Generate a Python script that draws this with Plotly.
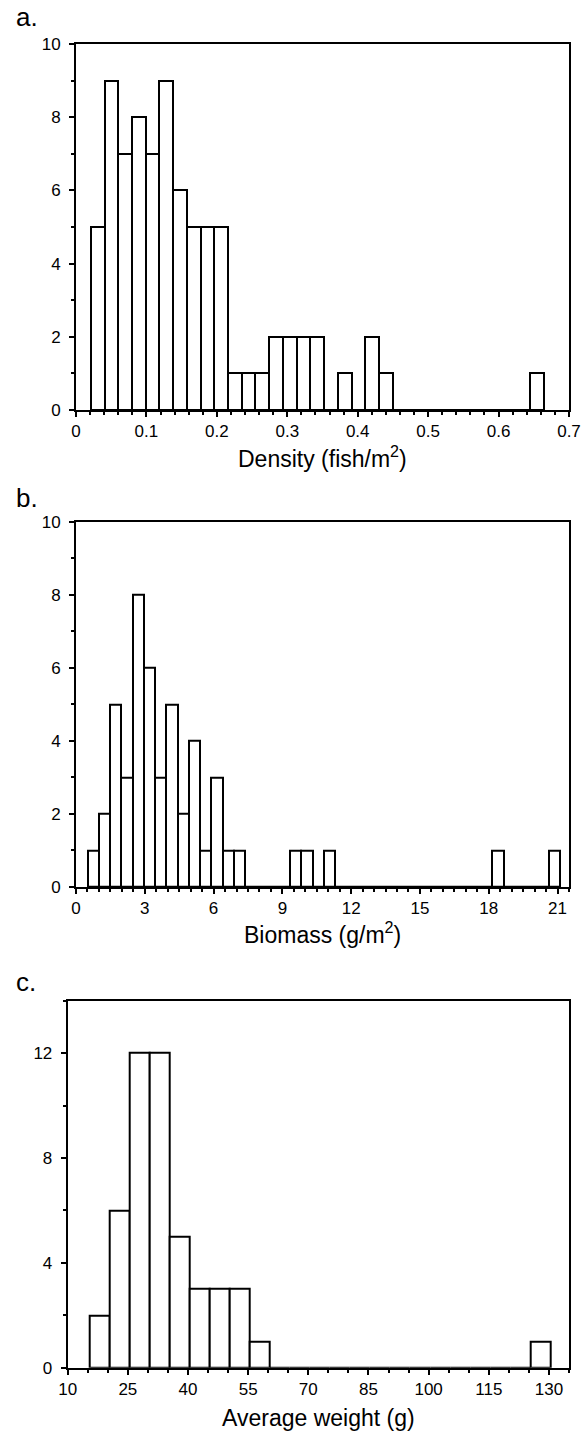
import plotly.graph_objects as go

# ---------------- data ----------------
# a. Density (fish/m2): histogram counts, equal-width bins from min to max
density_counts = [5, 9, 7, 8, 7, 9, 6, 5, 5, 5, 1, 1, 1, 2, 2, 2, 2, 0, 1, 0, 2, 1,
                  0, 0, 0, 0, 0, 0, 0, 0, 0, 0, 1]
density_min, density_max = 0.021, 0.664

# b. Biomass (g/m2)
biomass_counts = [1, 2, 5, 3, 8, 6, 3, 5, 2, 4, 1, 3, 1, 1, 0, 0, 0, 0, 1, 1, 0, 1,
                  0, 0, 0, 0, 0, 0, 0, 0, 0, 0, 0, 0, 0, 0, 1, 0, 0, 0, 0, 1]
biomass_min, biomass_max = 0.51, 21.1

# c. Average weight (g)
weight_counts = [2, 6, 12, 12, 5, 3, 3, 3, 1, 0, 0, 0, 0, 0, 0, 0, 0, 0, 0, 0, 0, 0, 1]
weight_min, weight_max = 15.4, 130.4

panel_labels = ["a.", "b.", "c."]
x_titles = ["Density (fish/m<sup>2</sup>)", "Biomass (g/m<sup>2</sup>)", "Average weight (g)"]

# ---------------- figure ----------------
W, H = 583, 1431
FONT = "Liberation Sans, Arial, Helvetica, sans-serif"

def centers(vmin, vmax, n):
    w = (vmax - vmin) / n
    return [vmin + w * (i + 0.5) for i in range(n)], w

fig = go.Figure()

panels = [
    dict(counts=density_counts, vmin=density_min, vmax=density_max,
         xdom=[76 / W, 569 / W], ytop=44, ybot=410,
         xrange=[0, 0.7], tick0=0, dtick=0.1, mdtick=0.02,
         yrange=[0, 10], ydtick=2, ymdtick=1, label_y=17, title_y=457),
    dict(counts=biomass_counts, vmin=biomass_min, vmax=biomass_max,
         xdom=[76 / W, 569 / W], ytop=521.7, ybot=887,
         xrange=[0, 21.5], tick0=0, dtick=3, mdtick=0.5,
         yrange=[0, 10], ydtick=2, ymdtick=1, label_y=498, title_y=933),
    dict(counts=weight_counts, vmin=weight_min, vmax=weight_max,
         xdom=[67.7 / W, 569 / W], ytop=1000.7, ybot=1367.7,
         xrange=[10, 135], tick0=10, dtick=15, mdtick=5,
         yrange=[0, 14], ydtick=4, ymdtick=2, label_y=982, title_y=1418),
]

for i, p in enumerate(panels):
    sfx = "" if i == 0 else str(i + 1)
    xs, w = centers(p["vmin"], p["vmax"], len(p["counts"]))
    fig.add_trace(go.Bar(
        x=xs, y=p["counts"], width=w,
        marker=dict(color="white", line=dict(color="black", width=2)),
        xaxis=f"x{sfx}", yaxis=f"y{sfx}", showlegend=False, hoverinfo="x+y",
    ))
    ax_common = dict(
        showline=True, linecolor="black", linewidth=2, mirror=True,
        showgrid=False, zeroline=False, ticks="outside", tickcolor="black",
        tickwidth=1.5, ticklen=5, automargin=False,
        tickfont=dict(family=FONT, size=17, color="black"),
    )
    fig.layout[f"xaxis{sfx}"] = dict(
        **ax_common, domain=p["xdom"], anchor=f"y{sfx}", range=p["xrange"],
        tickmode="linear", tick0=p["tick0"], dtick=p["dtick"],
        minor=dict(ticks="outside", ticklen=3, tickwidth=1.5, tickcolor="black",
                   dtick=p["mdtick"], tick0=p["tick0"], showgrid=False),
    )
    fig.layout[f"yaxis{sfx}"] = dict(
        **ax_common, domain=[1 - p["ybot"] / H, 1 - p["ytop"] / H], anchor=f"x{sfx}",
        range=p["yrange"], tickmode="linear", tick0=0, dtick=p["ydtick"],
        ticklabelstandoff=5,
        minor=dict(ticks="outside", ticklen=3, tickwidth=1.5, tickcolor="black",
                   dtick=p["ymdtick"], tick0=0, showgrid=False),
    )
    fig.add_annotation(
        text=panel_labels[i], xref="paper", yref="paper",
        x=14 / W, y=1 - p["label_y"] / H, xanchor="left", yanchor="middle",
        showarrow=False, font=dict(family=FONT, size=26, color="black"),
    )
    fig.add_annotation(
        text=x_titles[i], xref=f"x{sfx} domain", yref="paper",
        x=0.5, y=1 - p["title_y"] / H, xanchor="center", yanchor="middle",
        showarrow=False, font=dict(family=FONT, size=23, color="black"),
    )

fig.update_layout(
    width=W, height=H, margin=dict(l=0, r=0, t=0, b=0, autoexpand=False),
    paper_bgcolor="white", plot_bgcolor="white", bargap=0,
    font=dict(family=FONT, color="black"),
)

fig.write_html("out.html", config={"displayModeBar": False},
               post_script="document.body.style.margin='0px';")
